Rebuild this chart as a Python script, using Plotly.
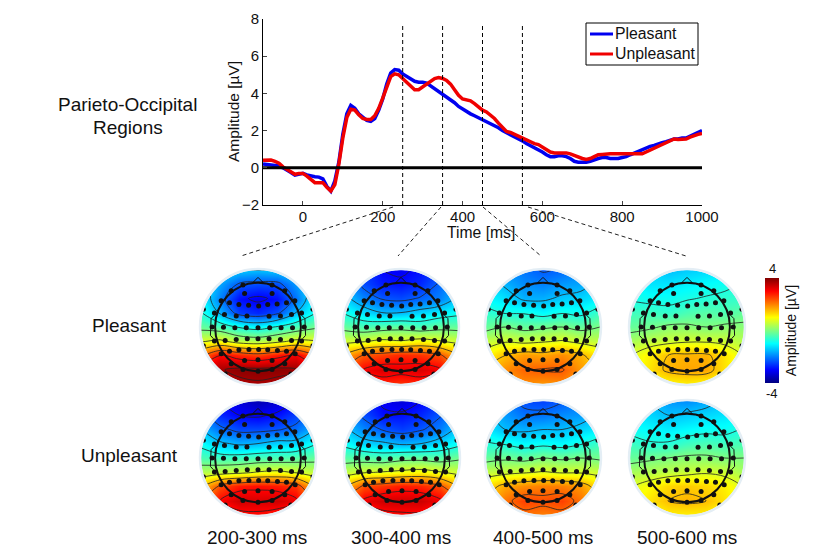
import numpy as np
import plotly.graph_objects as go

W, H = 824, 559

time_ms = list(range(-100, 1001, 10))
pleasant = [0.2,0.18,0.15,0.12,0.1,0.0,-0.1,-0.25,-0.4,-0.35,-0.3,-0.38,-0.45,-0.48,-0.5,-0.6,-1.0,-1.25,-0.7,0.3,
 1.8,2.9,3.35,3.2,2.9,2.7,2.55,2.5,2.65,3.1,3.7,4.5,5.1,5.28,5.25,5.05,4.9,4.75,4.65,4.6,
 4.6,4.55,4.4,4.25,4.1,4.0,3.85,3.7,3.5,3.3,3.15,3.05,2.9,2.8,2.7,2.6,2.5,2.4,2.3,2.15,
 2.0,1.9,1.8,1.7,1.55,1.45,1.3,1.2,1.1,1.0,0.85,0.7,0.6,0.6,0.65,0.65,0.6,0.5,0.35,0.3,
 0.28,0.3,0.35,0.45,0.5,0.55,0.55,0.5,0.5,0.5,0.55,0.6,0.7,0.8,0.9,1.0,1.1,1.15,1.2,1.3,
 1.35,1.4,1.5,1.55,1.55,1.6,1.6,1.7,1.8,1.9,2.0]
unpleasant = [0.4,0.42,0.42,0.35,0.25,0.05,-0.1,-0.25,-0.35,-0.3,-0.3,-0.45,-0.65,-0.8,-0.8,-0.8,-1.05,-1.25,-0.9,0.2,
 1.6,2.7,3.15,3.1,2.85,2.65,2.6,2.6,2.8,3.2,3.75,4.4,4.9,5.05,5.0,4.8,4.6,4.4,4.2,4.2,
 4.35,4.55,4.7,4.8,4.85,4.8,4.7,4.5,4.2,3.9,3.7,3.65,3.6,3.45,3.25,3.1,3.0,2.85,2.65,2.4,
 2.15,1.95,1.9,1.8,1.65,1.55,1.45,1.35,1.3,1.25,1.1,0.95,0.85,0.8,0.8,0.8,0.8,0.75,0.65,0.55,
 0.5,0.45,0.5,0.6,0.7,0.72,0.75,0.75,0.75,0.75,0.75,0.75,0.75,0.75,0.75,0.75,0.85,0.95,1.05,1.2,
 1.3,1.4,1.5,1.55,1.52,1.52,1.55,1.65,1.75,1.8,1.85]
window_edges = [250, 350, 450, 550]
x_ticks = [0, 200, 400, 600, 800, 1000]
y_ticks = [-2, 0, 2, 4, 6, 8]

grid_x = [-170, -113, -57, 0, 57, 113, 170]
grid_y = [170, 128, 85, 43, 0, -43, -85, -128, -170]

map_pleasant_200 = [
 [-1.0,-1.2,-1.4,-1.5,-1.4,-1.3,-1.0],
 [-1.1,-1.7,-2.3,-2.4,-2.4,-1.8,-1.1],
 [-1.0,-2.0,-2.9,-3.1,-2.9,-2.1,-1.0],
 [-0.7,-1.6,-2.5,-2.7,-2.4,-1.5,-0.8],
 [-0.2,-0.4,-0.8,-1.0,-0.7,-0.4,-0.1],
 [0.7,0.9,0.5,0.4,0.6,0.9,0.8],
 [2.1,3.0,2.7,2.5,2.8,3.1,2.3],
 [3.0,3.7,3.9,3.9,3.9,3.8,3.0],
 [2.9,3.5,3.6,3.7,3.6,3.5,3.0]]
map_pleasant_300 = [
 [-2.2,-2.5,-3.0,-3.1,-2.9,-2.6,-2.3],
 [-1.7,-2.4,-2.8,-2.9,-2.7,-2.2,-1.8],
 [-1.3,-1.9,-2.3,-2.4,-2.2,-2.0,-1.4],
 [-0.8,-1.2,-1.5,-1.5,-1.3,-1.1,-0.9],
 [-0.2,-0.4,-0.3,-0.2,-0.4,-0.2,-0.2],
 [0.6,0.7,0.9,0.8,1.0,0.8,0.6],
 [1.6,2.3,2.5,2.7,2.6,2.4,1.6],
 [2.3,3.0,3.3,3.2,3.3,3.1,2.1],
 [2.0,2.5,2.7,2.6,2.7,2.5,2.0]]
map_pleasant_400 = [
 [-1.5,-1.9,-2.1,-2.3,-2.2,-1.9,-1.6],
 [-1.2,-1.6,-1.9,-2.0,-1.8,-1.7,-1.3],
 [-1.0,-1.2,-1.6,-1.6,-1.4,-1.3,-1.1],
 [-0.6,-0.8,-0.8,-1.0,-0.8,-0.9,-0.5],
 [-0.2,0.0,-0.2,-0.1,0.0,-0.2,0.0],
 [0.5,0.7,0.6,0.7,0.8,0.6,0.5],
 [1.0,1.5,1.8,1.7,1.9,1.6,1.1],
 [1.5,1.9,2.2,2.3,2.3,1.8,1.4],
 [1.3,1.7,1.9,1.8,1.9,1.7,1.4]]
map_pleasant_500 = [
 [-1.0,-1.3,-1.5,-1.4,-1.3,-1.2,-1.0],
 [-0.9,-1.2,-1.2,-1.1,-1.0,-0.9,-0.7],
 [-0.8,-0.9,-0.9,-0.8,-0.7,-0.6,-0.6],
 [-0.5,-0.5,-0.6,-0.4,-0.3,-0.4,-0.2],
 [-0.2,-0.1,0.1,0.1,0.0,0.1,0.1],
 [0.3,0.5,0.6,0.7,0.7,0.6,0.4],
 [0.7,1.1,1.5,1.6,1.6,1.2,0.7],
 [0.8,1.2,1.6,1.7,1.7,1.2,0.8],
 [0.8,0.9,1.0,1.1,1.0,0.9,0.8]]
map_unpleasant_200 = [
 [-2.6,-3.0,-3.3,-3.6,-3.4,-3.0,-2.7],
 [-2.0,-2.7,-3.0,-3.1,-2.9,-2.5,-2.0],
 [-1.5,-2.1,-2.4,-2.4,-2.3,-2.1,-1.5],
 [-0.9,-1.4,-1.6,-1.5,-1.3,-1.3,-0.8],
 [-0.4,-0.5,-0.5,-0.4,-0.4,-0.3,-0.2],
 [0.4,0.5,0.6,0.8,0.9,0.7,0.5],
 [1.4,2.4,2.8,2.9,2.8,2.6,1.4],
 [2.0,3.0,3.4,3.3,3.4,3.1,2.0],
 [2.0,2.4,2.8,2.9,2.7,2.5,2.1]]
map_unpleasant_300 = [
 [-2.3,-2.7,-3.1,-3.3,-3.0,-2.7,-2.2],
 [-1.8,-2.4,-2.9,-2.9,-2.7,-2.3,-1.9],
 [-1.4,-1.9,-2.3,-2.5,-2.3,-2.0,-1.3],
 [-0.9,-1.3,-1.4,-1.6,-1.5,-1.2,-0.9],
 [-0.3,-0.3,-0.4,-0.2,-0.2,-0.3,-0.1],
 [0.5,0.7,0.8,0.9,1.0,0.8,0.6],
 [1.5,2.4,2.6,2.8,2.7,2.4,1.5],
 [2.2,3.1,3.4,3.4,3.4,3.1,2.2],
 [2.1,2.6,2.8,2.9,2.9,2.6,2.1]]
map_unpleasant_400 = [
 [-1.7,-2.0,-2.4,-2.5,-2.3,-2.0,-1.7],
 [-1.4,-1.8,-2.1,-2.1,-1.9,-1.8,-1.4],
 [-1.1,-1.5,-1.6,-1.5,-1.5,-1.3,-1.1],
 [-0.7,-0.8,-1.0,-0.9,-1.0,-0.8,-0.5],
 [-0.2,-0.1,-0.2,0.0,-0.1,0.0,-0.1],
 [0.5,0.6,0.7,0.8,0.7,0.7,0.6],
 [1.2,1.7,1.9,2.0,2.0,1.8,1.2],
 [1.5,2.1,2.5,2.4,2.5,2.1,1.5],
 [1.5,1.9,2.1,2.0,2.1,1.9,1.5]]
map_unpleasant_500 = [
 [-1.2,-1.5,-1.8,-1.9,-1.7,-1.4,-1.2],
 [-1.1,-1.3,-1.5,-1.4,-1.3,-1.2,-1.0],
 [-0.9,-1.0,-1.1,-1.0,-0.9,-0.9,-0.7],
 [-0.5,-0.7,-0.7,-0.5,-0.4,-0.5,-0.4],
 [-0.2,-0.1,0.0,0.1,0.1,0.0,0.0],
 [0.3,0.4,0.5,0.6,0.7,0.6,0.3],
 [0.7,1.0,1.3,1.4,1.3,1.1,0.7],
 [0.9,1.2,1.5,1.6,1.5,1.2,0.8],
 [0.8,0.9,1.1,1.1,1.1,0.9,0.8]]

all_maps = [map_pleasant_200, map_pleasant_300, map_pleasant_400, map_pleasant_500,
            map_unpleasant_200, map_unpleasant_300, map_unpleasant_400, map_unpleasant_500]
condition_labels = ["Pleasant", "Unpleasant"]
window_labels = ["200-300 ms", "300-400 ms", "400-500 ms", "500-600 ms"]

electrode_x = [-163,164,-163,164,-98,98,-45,42,-80,80,-40,42,
 -110,-85,-57,-28,2,29,57,85,110,
 -130,-100,-65,-33,33,67,100,130,
 -137,-103,-69,-35,0,35,69,103,138,
 -130,-98,-65,-32,0,33,67,100,130,
 -110,-85,-57,-27,2,29,58,85,111,
 -80,-40,0,42,80,-45,0,42]
electrode_y = [53,53,-56,-56,-140,-140,125,125,108,108,100,100,
 78,72,67,65,63,67,69,72,78,
 42,37,33,33,32,33,37,42,
 0,-1,-2,-2,-2,-2,-2,-2,0,
 -42,-40,-37,-35,-35,-35,-37,-40,-42,
 -80,-72,-68,-67,-67,-68,-70,-72,-80,
 -110,-100,-98,-100,-110,-127,-132,-127]
nose_x = [-20, 0, 20]
nose_y = [128, 148, 128]
ear_left_x = [-130, -140, -142, -133]
ear_right_x = [130, 140, 142, 133]
ear_y = [35, 25, -25, -35]

jet = [[0, "#00007f"], [0.125, "#0000ff"], [0.375, "#00ffff"], [0.625, "#ffff00"], [0.875, "#ff0000"], [1, "#7f0000"]]
FONT = "Liberation Sans"
TXT = "#111111"
BLUE, RED = "#0000f0", "#f00000"

def px(x): return x / W
def py(y): return 1 - y / H

fig = go.Figure()
shapes, annotations = [], []

# ---- waveform
for name, vals, col in [("Pleasant", pleasant, BLUE), ("Unpleasant", unpleasant, RED)]:
    fig.add_trace(go.Scatter(x=time_ms, y=vals, mode="lines", name=name, showlegend=False,
                             line=dict(color=col, width=3.5)))
fig.add_trace(go.Scatter(x=[-100, 1000], y=[0, 0], mode="lines", showlegend=False, line=dict(color="black", width=3)))
for t in window_edges:
    fig.add_trace(go.Scatter(x=[t, t], y=[-2, 7.7], mode="lines", showlegend=False,
                             line=dict(color="black", width=1, dash="4px,3px")))

layout_axes = dict(
    xaxis=dict(domain=[px(263), px(702)], range=[-100, 1000], tickvals=x_ticks, ticks="inside", ticklen=4,
               ticklabelstandoff=-2,
               showgrid=False, zeroline=False, showline=True, linecolor="black", linewidth=1,
               tickfont=dict(size=15, family=FONT, color=TXT), anchor="y"),
    yaxis=dict(domain=[py(205), py(19)], range=[-2, 8], tickvals=y_ticks, ticks="inside", ticklen=4,
               showgrid=False, zeroline=False, showline=True, linecolor="black", linewidth=1,
               tickfont=dict(size=15, family=FONT, color=TXT), anchor="x"),
)

# ---- topographic maps
map_cx = [258, 401, 543, 687, 258, 402, 543, 687]
map_cy = [327, 327, 327, 327, 458, 458, 458, 458]
half_px = 62
extent = 185
theta = np.linspace(0, 2 * np.pi, 181)[:-1]
ring = "M" + " L".join(f"{170*np.cos(a):.2f},{170*np.sin(a):.2f}" for a in theta) + " Z"
mask_path = f"M{-extent},{-extent} L{extent},{-extent} L{extent},{extent} L{-extent},{extent} Z " + ring

for i, z in enumerate(all_maps):
    n = i + 2
    xa, ya = f"x{n}", f"y{n}"
    cx, cy = map_cx[i], map_cy[i]
    ax = dict(visible=False, range=[-extent, extent], fixedrange=True)
    layout_axes[f"xaxis{n}"] = dict(ax, domain=[px(cx - half_px), px(cx + half_px)], anchor=ya)
    layout_axes[f"yaxis{n}"] = dict(ax, domain=[py(cy + half_px), py(cy - half_px)], anchor=xa)
    fig.add_trace(go.Heatmap(x=grid_x, y=grid_y[::-1], z=z[::-1], coloraxis="coloraxis", zsmooth="best",
                             showlegend=False, xaxis=xa, yaxis=ya, hoverinfo="skip"))
    fig.add_trace(go.Contour(x=grid_x, y=grid_y[::-1], z=z[::-1], showscale=False, showlegend=False,
                             xaxis=xa, yaxis=ya,
                             autocontour=False, contours=dict(coloring="none", start=-3.75, end=3.75, size=0.75),
                             line=dict(color="#222222", width=0.8, smoothing=1), hoverinfo="skip"))
    for ox, oy in [(nose_x, nose_y), (ear_left_x, ear_y), (ear_right_x, ear_y)]:
        fig.add_trace(go.Scatter(x=ox, y=oy, mode="lines", showlegend=False, xaxis=xa, yaxis=ya,
                                 line=dict(color="#111111", width=1), hoverinfo="skip"))
    fig.add_trace(go.Scatter(x=electrode_x, y=electrode_y, mode="markers", showlegend=False, xaxis=xa, yaxis=ya,
                             marker=dict(color="#111111", size=5), hoverinfo="skip"))
    shapes.append(dict(type="path", path=mask_path, xref=xa, yref=ya, fillcolor="white", fillrule="evenodd",
                       line=dict(width=0), layer="above"))
    shapes.append(dict(type="circle", xref=xa, yref=ya, x0=-173, x1=173, y0=-173, y1=173,
                       line=dict(color="#e4eef5", width=2.5), layer="above"))
    shapes.append(dict(type="circle", xref=xa, yref=ya, x0=-128, x1=128, y0=-132, y1=132,
                       line=dict(color="#111111", width=2), layer="above"))

# ---- fanning dashed connectors (paper space)
for x0, y0, x1, y1 in [(393, 207, 241, 256), (441, 207, 398, 256), (483, 207, 541, 256), (528, 207, 686, 256)]:
    shapes.append(dict(type="line", xref="paper", yref="paper", x0=px(x0), y0=py(y0), x1=px(x1), y1=py(y1),
                       line=dict(color="#222222", width=1, dash="4px,3px"), layer="above"))

# ---- text
def label(x, y, text, size=19, angle=0, anchor="center"):
    annotations.append(dict(x=px(x), y=py(y), xref="paper", yref="paper", text=text, showarrow=False,
                            xanchor=anchor, yanchor="middle", textangle=angle, xshift=0,
                            font=dict(size=size, family=FONT, color=TXT), borderpad=0, borderwidth=0))

label(128, 104, "Parieto-Occipital")
label(128, 127, "Regions")
label(129, 325, condition_labels[0])
label(129, 455, condition_labels[1])
for xc, t in zip([257, 401, 543, 687], window_labels):
    label(xc, 537, t)
label(481, 232, "Time [ms]", 15.7)
label(234, 112, "Amplitude [µV]", 15.5, -90)
label(772, 268, "4", 13)
label(772, 393, "-4", 13)

# ---- legend box, placed to the reference's pixel positions
shapes.append(dict(type="rect", xref="paper", yref="paper", x0=px(586), x1=px(698), y0=py(65), y1=py(23),
                   fillcolor="white", line=dict(color="black", width=1), layer="above"))
for y, col, name in [(34, BLUE, "Pleasant"), (54, RED, "Unpleasant")]:
    shapes.append(dict(type="line", xref="paper", yref="paper", x0=px(590), x1=px(613), y0=py(y), y1=py(y),
                       line=dict(color=col, width=3), layer="above"))
    label(615, y, name, 15.8, anchor="left")

fig.update_layout(
    width=W, height=H, margin=dict(l=0, r=0, t=0, b=0, autoexpand=False), paper_bgcolor="white", plot_bgcolor="white",
    showlegend=False,
    coloraxis=dict(cmin=-4, cmax=4, colorscale=jet,
                   colorbar=dict(x=px(765), xanchor="left", y=py(330.5), yanchor="middle", thickness=14,
                                 thicknessmode="pixels", len=105, lenmode="pixels", ypad=0, xpad=0,
                                 outlinewidth=0, showticklabels=False, ticks="",
                                 title=dict(text="Amplitude [µV]", side="right",
                                            font=dict(size=14, family=FONT, color=TXT)))),
    shapes=shapes, annotations=annotations, **layout_axes)

fig.write_html("out.html", config=dict(displayModeBar=False), post_script="document.body.style.margin='0';")
